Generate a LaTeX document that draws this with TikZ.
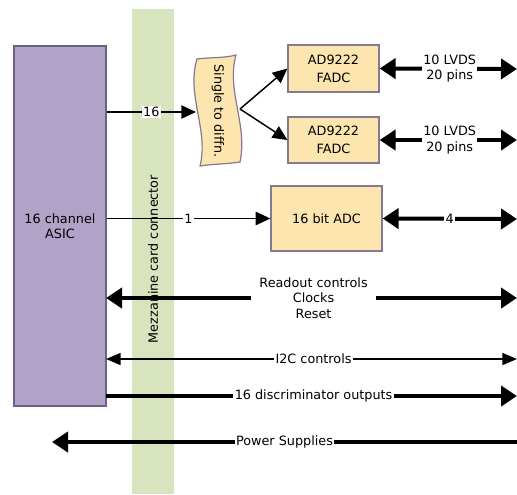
\documentclass[tikz,border=0pt]{standalone}
\usepackage{fontspec}
\setmainfont{DejaVu Sans}
\usetikzlibrary{arrows.meta}
\definecolor{asicfill}{HTML}{B1A3C8}
\definecolor{asicdraw}{HTML}{6E5F86}
\definecolor{conn}{HTML}{D7E4BD}
\definecolor{boxfill}{HTML}{FCE5AF}
\definecolor{boxdraw}{HTML}{857890}
\begin{document}
\begin{tikzpicture}[x=0.75pt,y=-0.75pt,
  every node/.style={font=\fontsize{9.6}{11.5}\selectfont},
  box/.style={draw=boxdraw,fill=boxfill,line width=0.9pt,align=center,inner sep=0pt},
  thin/.style={line width=1.1pt,-{Triangle[length=11pt,width=10pt]}},
  thinboth/.style={line width=1.1pt,{Triangle[length=11pt,width=9pt]}-{Triangle[length=11pt,width=9pt]}},
  thick/.style={line width=3pt,-{Triangle[length=12pt,width=15pt]}},
  thickboth/.style={line width=3pt,{Triangle[length=12pt,width=15pt]}-{Triangle[length=12pt,width=15pt]}},
  lbl/.style={fill=white,inner sep=1pt,align=center}]
\useasboundingbox (0,0) rectangle (517,494);
% connector strip
\fill[conn] (132,9) rectangle (174,494);
\node[rotate=90] (mez) at (153,259) {Mezzanine card connector};
% ASIC
\node[draw=asicdraw,fill=asicfill,line width=0.9pt,minimum width=69pt,minimum height=270pt,align=center,inner sep=0pt] (asic) at (60,226) {16 channel\\ASIC};
% single to diff shape
\filldraw[draw=boxdraw,fill=boxfill,line width=0.9pt]
  (197,59) .. controls (215,57) and (225,58) .. (236,55)
  .. controls (226,90) and (248,125) .. (240,162)
  .. controls (228,164) and (212,164) .. (200,166)
  .. controls (209,130) and (186,95) .. (197,59) -- cycle;
\node[rotate=-90,inner sep=0pt] (std) at (218,111) {Single to diffn.};
\coordinate (stdin) at (196,112);
\coordinate (stdout) at (240,109);
% FADCs
\node[box,minimum width=68.25pt,minimum height=35.25pt,font=\fontsize{9.6}{13.5}\selectfont] (fadc1) at (333.5,68.5) {AD9222\\FADC};
\node[box,minimum width=68.25pt,minimum height=34.5pt,font=\fontsize{9.6}{13.5}\selectfont] (fadc2) at (333.5,140) {AD9222\\FADC};
\node[box,minimum width=83.25pt,minimum height=48.75pt] (adc) at (326.5,218.5) {16 bit ADC};
% right ends
\coordinate (r1) at (517,69);
\coordinate (r2) at (517,140);
\coordinate (r3) at (517,219);
\coordinate (r4) at (517,298);
\coordinate (r5) at (517,359);
\coordinate (r6) at (517,396);
\coordinate (r7) at (517,442);
\coordinate (l4) at (106,298);
\coordinate (l5) at (106,359);
\coordinate (l6) at (106,396);
\coordinate (l7) at (52,442);
% connectors
\draw[thin] (asic.east |- stdin) -- node[lbl,pos=0.5] {16} (stdin);
\draw[thin] (asic.east |- adc.west) -- node[lbl,pos=0.5] {1} (adc.west);
\draw[thin] (stdout) -- (fadc1.west);
\draw[thin] (stdout) -- (fadc2.west);
\draw[thickboth] (fadc1.east) -- node[lbl,pos=0.51] {10 LVDS\\20 pins} (r1);
\draw[thickboth] (fadc2.east) -- node[lbl,pos=0.51] {10 LVDS\\20 pins} (r2);
\draw[thickboth] (adc.east) -- node[lbl,pos=0.5] {4} (r3);
\draw[thickboth] (l4) -- node[lbl,pos=0.505,inner xsep=6pt] {Readout controls\\Clocks\\Reset} (r4);
\draw[thinboth] (l5) -- node[lbl,pos=0.505] {I2C controls} (r5);
\draw[thick] (l6) -- node[lbl,pos=0.505] {16 discriminator outputs} (r6);
\draw[thick] (r7) -- node[lbl,pos=0.5] {Power Supplies} (l7);
\end{tikzpicture}
\end{document}
